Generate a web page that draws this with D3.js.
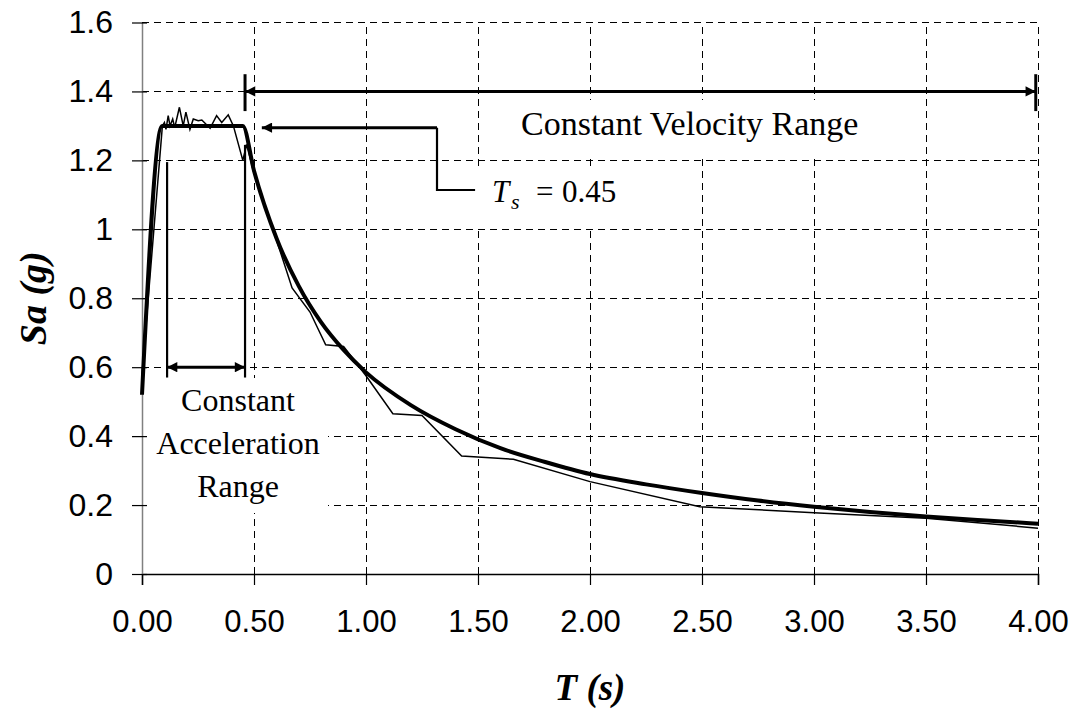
<!DOCTYPE html>
<html>
<head>
<meta charset="utf-8">
<script src="https://cdn.jsdelivr.net/npm/d3@7"></script>
<style>
  html, body { margin: 0; padding: 0; background: #fff; }
  svg { display: block; }
</style>
</head>
<body>
<svg id="chart" width="1080" height="713"></svg>
<script>
// ---------------- data ----------------
const xTicks = [0, 0.5, 1.0, 1.5, 2.0, 2.5, 3.0, 3.5, 4.0];
const yTicks = [0, 0.2, 0.4, 0.6, 0.8, 1.0, 1.2, 1.4, 1.6];
const yTickLabels = ["0", "0.2", "0.4", "0.6", "0.8", "1", "1.2", "1.4", "1.6"];

// design spectrum (thick)
const designT  = [0, 0.09, 0.45, 0.5, 0.6, 0.7, 0.8, 0.9, 1.0, 1.2, 1.4, 1.6, 1.8, 2.0, 2.25, 2.5, 2.75, 3.0, 3.25, 3.5, 3.75, 4.0];
const designSa = [0.52, 1.30, 1.30, 1.17, 0.975, 0.835, 0.73, 0.65, 0.585, 0.49, 0.42, 0.365, 0.325, 0.29, 0.26, 0.235, 0.213, 0.195, 0.18, 0.167, 0.156, 0.146];

// recorded spectrum (thin)
const recT  = [0, 0.091, 0.10, 0.107, 0.117, 0.125, 0.137, 0.146, 0.167, 0.184, 0.196, 0.214, 0.229, 0.251, 0.267, 0.304, 0.333, 0.356, 0.385, 0.408, 0.45, 0.467, 0.497, 0.55, 0.6, 0.67, 0.75, 0.82, 0.9, 1.0, 1.12, 1.25, 1.427, 1.658, 2.0, 2.49, 3.0, 3.5, 4.0];
const recSa = [0.58, 1.30, 1.31, 1.29, 1.33, 1.30, 1.32, 1.295, 1.354, 1.30, 1.34, 1.29, 1.32, 1.315, 1.317, 1.293, 1.33, 1.31, 1.332, 1.30, 1.20, 1.246, 1.17, 1.06, 0.97, 0.83, 0.76, 0.665, 0.66, 0.575, 0.465, 0.46, 0.342, 0.333, 0.268, 0.195, 0.178, 0.162, 0.133];

// annotations (data units)
const velRange = [0.46, 3.99];   // at Sa = 1.4
const velLevel = 1.4;
const accRange = [0.112, 0.46];  // at Sa = 0.6
const accLevel = 0.6;
const accBarTop = [1.195, 1.245];
const accBarBottom = 0.57;
const tsLeader = [[0.535, 1.295], [1.317, 1.295], [1.317, 1.114], [1.487, 1.114]];

// ---------------- layout ----------------
const svg = d3.select("#chart");
const x = d3.scaleLinear().domain([0, 4]).range([142, 1038]);
const y = d3.scaleLinear().domain([0, 1.6]).range([574, 22.5]);
const SERIF = "'Liberation Serif', 'Times New Roman', serif";
const SANS = "'Liberation Sans', Arial, sans-serif";

// defs: arrowheads
const defs = svg.append("defs");
function marker(id, orient) {
  defs.append("marker")
    .attr("id", id).attr("viewBox", "0 0 10 10")
    .attr("refX", 10).attr("refY", 5)
    .attr("markerWidth", 4.2).attr("markerHeight", 3.4)
    .attr("markerUnits", "strokeWidth")
    .attr("orient", orient)
    .append("path").attr("d", "M0,0 L10,5 L0,10 z").attr("fill", "#000");
}
marker("arr", "auto");
marker("arrS", "auto-start-reverse");

// gridlines
const grid = svg.append("g").attr("shape-rendering", "crispEdges");
grid.selectAll("line.h").data(yTicks.filter(d => d > 0)).join("line")
  .attr("x1", x(0)).attr("x2", x(4))
  .attr("y1", d => y(d)).attr("y2", d => y(d))
  .attr("stroke", "#000").attr("stroke-width", 1).attr("stroke-dasharray", "7,5");
grid.selectAll("line.v").data(xTicks.filter(d => d > 0)).join("line")
  .attr("x1", d => x(d)).attr("x2", d => x(d))
  .attr("y1", y(0)).attr("y2", y(1.6))
  .attr("stroke", "#000").attr("stroke-width", 1).attr("stroke-dasharray", "7,5");

// text boxes (white backgrounds hiding grid)
const boxes = svg.append("g");
const texts = svg.append("g");

// constant velocity label
texts.append("text")
  .attr("x", 521).attr("y", 135)
  .attr("font-family", SERIF).attr("font-size", 34).attr("fill", "#000")
  .text("Constant Velocity Range");
boxes.append("rect").attr("x", 500).attr("y", 100).attr("width", 392).attr("height", 57).attr("fill", "#fff");

// constant acceleration label
const accText = texts.append("text")
  .attr("font-family", SERIF).attr("font-size", 32).attr("text-anchor", "middle").attr("fill", "#000");
["Constant", "Acceleration", "Range"].forEach((l, i) => {
  accText.append("tspan").attr("x", 238).attr("y", 411 + i * 43).text(l);
});
boxes.append("rect").attr("x", 147).attr("y", 378).attr("width", 181).attr("height", 135).attr("fill", "#fff");

// Ts label
const tsG = texts.append("text")
  .attr("font-family", SERIF).attr("font-size", 31).attr("fill", "#000");
tsG.append("tspan").attr("x", 492).attr("y", 202).attr("font-style", "italic").text("T");
tsG.append("tspan").attr("x", 511).attr("y", 209).attr("font-style", "italic").attr("font-size", 22).text("s");
tsG.append("tspan").attr("x", 536).attr("y", 202).text("=");
tsG.append("tspan").attr("x", 562).attr("y", 202).text("0.45");
boxes.append("rect").attr("x", 477).attr("y", 166).attr("width", 150).attr("height", 61).attr("fill", "#fff");

// axes
const xAxis = d3.axisBottom(x).tickValues(xTicks).tickFormat(d3.format(".2f"))
  .tickSize(11).tickPadding(25);
const gx = svg.append("g").attr("transform", `translate(0,${y(0)})`).call(xAxis);
gx.select(".domain").attr("stroke", "#000").attr("stroke-width", 1.5);
gx.selectAll(".tick line").attr("stroke", "#000").attr("stroke-width", 1.2);
gx.selectAll(".tick text").attr("font-family", SANS)
  .attr("font-size", 31).attr("fill", "#000");

const yAxis = d3.axisLeft(y).tickValues(yTicks).tickFormat((d, i) => yTickLabels[i])
  .tickSizeInner(10).tickSizeOuter(0).tickPadding(19);
const gy = svg.append("g").attr("transform", `translate(${x(0)},0)`).call(yAxis);
gy.select(".domain").attr("stroke", "#808080").attr("stroke-width", 1.5);
gy.selectAll(".tick line").attr("stroke", "#000").attr("stroke-width", 1.2);
gy.selectAll(".tick text").attr("font-family", SANS)
  .attr("font-size", 32).attr("fill", "#000");
const yAxisIn = d3.axisRight(y).tickValues(yTicks).tickFormat("").tickSizeInner(5).tickSizeOuter(0);
const gy2 = svg.append("g").attr("transform", `translate(${x(0)},0)`).call(yAxisIn);
gy2.select(".domain").remove();
gy2.selectAll(".tick line").attr("stroke", "#000").attr("stroke-width", 1.2);

// axis titles
svg.append("text")
  .attr("x", (x(0) + x(4)) / 2).attr("y", 700)
  .attr("text-anchor", "middle")
  .attr("font-family", SERIF)
  .attr("font-weight", "bold").attr("font-style", "italic").attr("font-size", 37)
  .text("T (s)");
svg.append("text")
  .attr("transform", `translate(46,${(y(0) + y(1.6)) / 2}) rotate(-90)`)
  .attr("text-anchor", "middle")
  .attr("font-family", SERIF)
  .attr("font-weight", "bold").attr("font-style", "italic").attr("font-size", 38)
  .text("Sa (g)");

// curves
const recData = recT.map((t, i) => [t, recSa[i]]);
const designData = designT.map((t, i) => [t, designSa[i]]);
const lineLin = d3.line().x(d => x(d[0])).y(d => y(d[1]));
svg.append("path").datum(recData).attr("d", lineLin)
  .attr("fill", "none").attr("stroke", "#000").attr("stroke-width", 1.5).attr("stroke-linejoin", "miter");
svg.append("path").datum(designData)
  .attr("d", d3.line().x(d => x(d[0])).y(d => y(d[1])).curve(d3.curveMonotoneX))
  .attr("fill", "none").attr("stroke", "#000").attr("stroke-width", 4).attr("stroke-linejoin", "miter");

// annotations
const ann = svg.append("g").attr("stroke", "#000").attr("fill", "none");
ann.append("line")
  .attr("x1", x(velRange[0])).attr("x2", x(velRange[1]))
  .attr("y1", y(velLevel)).attr("y2", y(velLevel))
  .attr("stroke-width", 3)
  .attr("marker-start", "url(#arrS)").attr("marker-end", "url(#arr)");
velRange.forEach(t => {
  ann.append("line").attr("x1", x(t)).attr("x2", x(t))
    .attr("y1", y(velLevel + 0.05)).attr("y2", y(velLevel - 0.057)).attr("stroke-width", 3);
});
accRange.forEach((t, i) => {
  ann.append("line").attr("x1", x(t)).attr("x2", x(t))
    .attr("y1", y(accBarTop[i])).attr("y2", y(accBarBottom)).attr("stroke-width", 2.2);
});
ann.append("line")
  .attr("x1", x(accRange[0])).attr("x2", x(accRange[1]))
  .attr("y1", y(accLevel)).attr("y2", y(accLevel))
  .attr("stroke-width", 3)
  .attr("marker-start", "url(#arrS)").attr("marker-end", "url(#arr)");
ann.append("line")
  .attr("x1", x(tsLeader[1][0])).attr("x2", x(tsLeader[0][0]))
  .attr("y1", y(tsLeader[1][1])).attr("y2", y(tsLeader[0][1]))
  .attr("stroke-width", 3).attr("marker-end", "url(#arr)");
ann.append("path")
  .attr("d", d3.line().x(d => x(d[0])).y(d => y(d[1]))(tsLeader.slice(1)))
  .attr("stroke-width", 2.2);
</script>
</body>
</html>
